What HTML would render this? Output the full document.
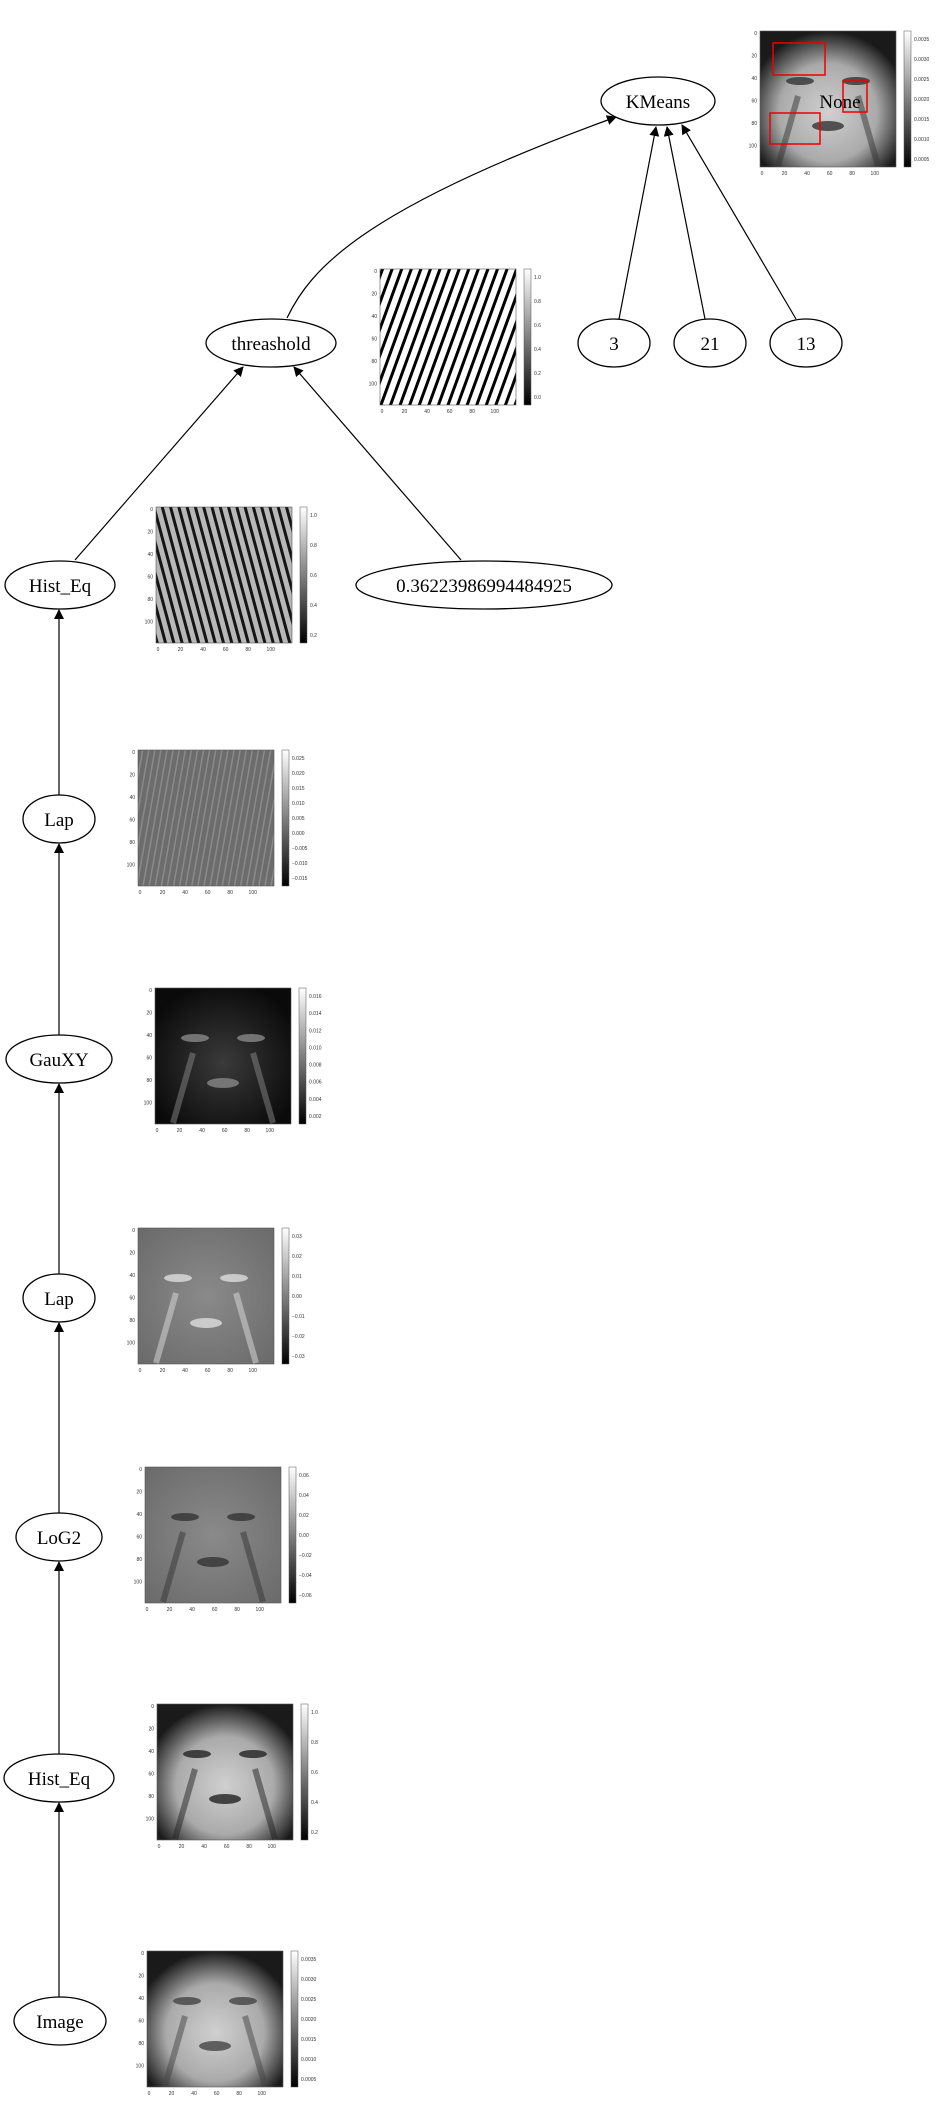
<!DOCTYPE html>
<html><head><meta charset="utf-8"><style>
html,body{margin:0;padding:0;background:#fff;}
svg{display:block;}
</style></head><body>
<svg id="g" width="939" height="2123" viewBox="0 0 939 2123" xmlns="http://www.w3.org/2000/svg">
<defs>
<radialGradient id="face" cx="50%" cy="60%" r="60%"><stop offset="0" stop-color="#d0d0d0"/><stop offset="0.6" stop-color="#aaa"/><stop offset="1" stop-color="#1a1a1a"/></radialGradient>
<radialGradient id="midgray" cx="50%" cy="50%" r="70%"><stop offset="0" stop-color="#8a8a8a"/><stop offset="1" stop-color="#6a6a6a"/></radialGradient>
<radialGradient id="dark" cx="50%" cy="55%" r="60%"><stop offset="0" stop-color="#3a3a3a"/><stop offset="1" stop-color="#0a0a0a"/></radialGradient>
<pattern id="stripes" width="9" height="9" patternUnits="userSpaceOnUse" patternTransform="rotate(20)"><rect width="9" height="9" fill="#fff"/><rect width="3" height="9" fill="#000"/></pattern>
<pattern id="stripes2" width="8" height="8" patternUnits="userSpaceOnUse" patternTransform="rotate(-15)"><rect width="8" height="8" fill="#b8b8b8"/><rect width="3" height="8" fill="#151515"/></pattern>
<pattern id="stripes3" width="6" height="6" patternUnits="userSpaceOnUse" patternTransform="rotate(10)"><rect width="6" height="6" fill="#6c6c6c"/><rect width="1.5" height="6" fill="#8a8a8a"/></pattern>
<linearGradient id="cbar" x1="0" y1="1" x2="0" y2="0"><stop offset="0" stop-color="#000"/><stop offset="1" stop-color="#fff"/></linearGradient>
<marker id="arr" markerWidth="10" markerHeight="10" refX="9" refY="5" orient="auto" markerUnits="userSpaceOnUse"><path d="M0,0 L10,5 L0,10 z" fill="#000"/></marker>
</defs>
</svg>
<script>
const svg=document.getElementById('g');
const NS='http://www.w3.org/2000/svg';
const nodeLabels=['KMeans','threashold','3','21','13','Hist_Eq','0.36223986994484925','Lap','GauXY','Lap','LoG2','Hist_Eq','Image'];
const nodeCx=[658,271,614,710,806,60,484,59,59,59,59,59,60];
const nodeCy=[101,343,343,343,343,585,585,819,1059,1298,1537,1778,2021];
const nodeRx=[57,65,36,36,36,55,128,36,53,36,43,55,46];
function mk(t,a){const e=document.createElementNS(NS,t);for(const k in a)e.setAttribute(k,a[k]);svg.appendChild(e);return e;}
const panelX=[760,380,156,138,155,138,145,157,147];
const panelY=[31,269,507,750,988,1228,1467,1704,1951];
const panelFill=['url(#face)','url(#stripes)','url(#stripes2)','url(#stripes3)','url(#dark)','url(#midgray)','url(#midgray)','url(#face)','url(#face)'];
const featColor=['#333',null,null,null,'#888','#ddd','#333','#222','#444'];
const cbTicks=[['0.0035','0.0030','0.0025','0.0020','0.0015','0.0010','0.0005'],['1.0','0.8','0.6','0.4','0.2','0.0'],['1.0','0.8','0.6','0.4','0.2'],['0.025','0.020','0.015','0.010','0.005','0.000','−0.005','−0.010','−0.015'],['0.016','0.014','0.012','0.010','0.008','0.006','0.004','0.002'],['0.03','0.02','0.01','0.00','−0.01','−0.02','−0.03'],['0.06','0.04','0.02','0.00','−0.02','−0.04','−0.06'],['1.0','0.8','0.6','0.4','0.2'],['0.0035','0.0030','0.0025','0.0020','0.0015','0.0010','0.0005']];
const axTicks=['0','20','40','60','80','100'];
for(let p=0;p<panelX.length;p++){
  const x=panelX[p],y=panelY[p],w=136,h=136;
  const r=mk('rect',{x:x,y:y,width:w,height:h,fill:panelFill[p],stroke:'#555','stroke-width':0.6});
  
  
  if(featColor[p]){
    [[x+40,y+50,14,4],[x+96,y+50,14,4],[x+68,y+95,16,5]].forEach(f=>{const q=mk('ellipse',{cx:f[0],cy:f[1],rx:f[2],ry:f[3],fill:featColor[p],opacity:0.8});
      
      });
    [[x+18,y+105],[x+118,y+105]].forEach(f=>{const q=mk('path',{d:'M'+f[0]+','+(f[1]+30)+' L'+(f[0]+(f[0]<x+68?20:-20))+','+(f[1]-40),stroke:featColor[p],'stroke-width':6,opacity:0.5,fill:'none'});
      
      });
  }
  if(p===0){
    [[773,43,52,32],[770,113,50,31],[843,81,24,31]].forEach(b=>{const q=mk('rect',{x:b[0],y:b[1],width:b[2],height:b[3],fill:'none',stroke:'#e00','stroke-width':1.5});
      
      });
  }
  axTicks.forEach((t,i)=>{
    const ty=y+2+i*(h-12)/5.5, tx=x+2+i*(w-12)/5.5;
    const a=mk('text',{x:x-3,y:ty+2,'font-size':5,'text-anchor':'end',fill:'#333','font-family':'Liberation Sans, sans-serif'});a.textContent=t;
    
    const b=mk('text',{x:tx,y:y+h+8,'font-size':5,'text-anchor':'middle',fill:'#333','font-family':'Liberation Sans, sans-serif'});b.textContent=t;
    
  });
  const cx=x+w+8;
  const c=mk('rect',{x:cx,y:y,width:7,height:h,fill:'url(#cbar)',stroke:'#555','stroke-width':0.5});
  
  const ct=cbTicks[p];
  ct.forEach((t,i)=>{const ty=y+8+i*(h-16)/Math.max(1,ct.length-1);
    const e=mk('text',{x:cx+10,y:ty+2,'font-size':5,fill:'#333','font-family':'Liberation Sans, sans-serif'});e.textContent=t;
    });
}
const edges=[
 'M75,560 L243,367','M461,560 L294,367',
 'M287,318 C310,270 360,210 616,117',
 'M619,319 L656,127','M705,319 L667,127','M796,319 L682,125'];
const chain=[12,11,10,9,8,7,5];
for(let i=0;i<chain.length-1;i++){const a=chain[i],b=chain[i+1];edges.push('M59,'+(nodeCy[a]-24)+' L59,'+(nodeCy[b]+25));}
edges.forEach(d=>{const e=mk('path',{d:d,fill:'none',stroke:'#000','stroke-width':1.2,'marker-end':'url(#arr)'});
  });
for(let i=0;i<nodeLabels.length;i++){
  const e=mk('ellipse',{cx:nodeCx[i],cy:nodeCy[i],rx:nodeRx[i],ry:24,fill:'#fff',stroke:'#000','stroke-width':1.3});
  
  
  const t=mk('text',{x:nodeCx[i],y:nodeCy[i]+7,'font-size':19,'text-anchor':'middle','font-family':'Liberation Serif, serif'});
  t.textContent=nodeLabels[i];
  
}
const n=mk('text',{x:840,y:108,'font-size':19,'text-anchor':'middle','font-family':'Liberation Serif, serif'});n.textContent='None';

</script>
</body></html>
